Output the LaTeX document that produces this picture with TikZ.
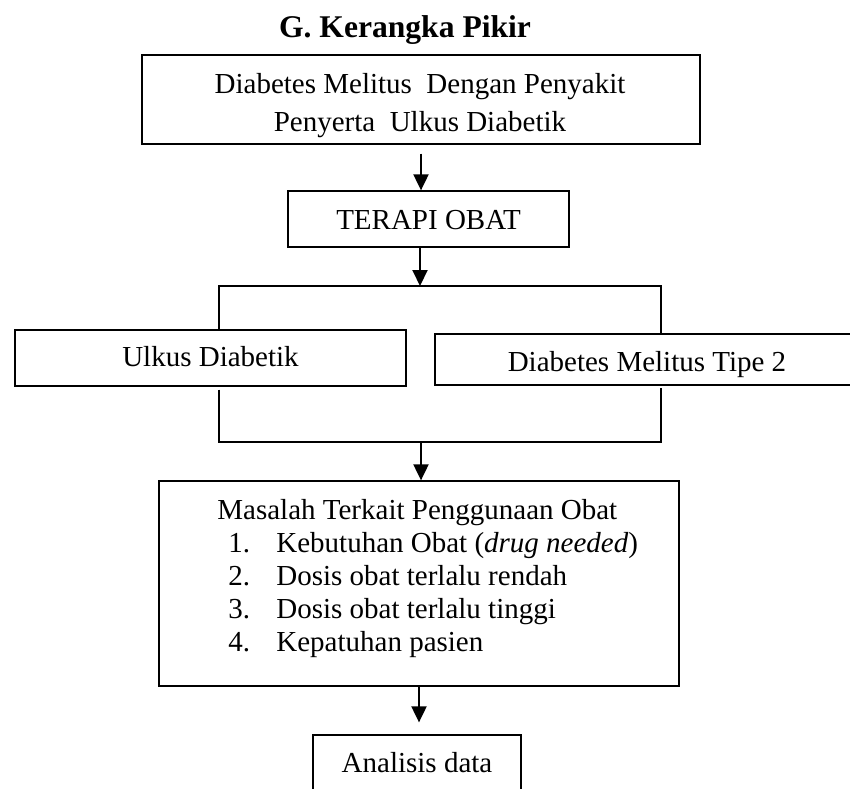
\documentclass[tikz,border=0pt]{standalone}
\usepackage{fontspec}
\setmainfont{Liberation Serif}
\usetikzlibrary{arrows.meta}
\begin{document}
\begin{tikzpicture}[x=0.5pt,y=-0.5pt,
  every node/.style={font=\fontsize{14.5pt}{16.5pt}\selectfont, inner sep=0pt},
  box/.style={draw=black, line width=0.65pt, rectangle, inner sep=0pt, text depth=0pt},
  conn/.style={draw=black, line width=1pt},
  arr/.style={conn, -{Triangle[length=8pt,width=7.5pt]}},
  txt/.style={anchor=base, inner sep=0pt}]
\useasboundingbox (0,0) rectangle (850,788);

% title
\node[txt, font=\fontsize{15.8pt}{18pt}\selectfont\bfseries] (title) at (405,37) {G. Kerangka Pikir};

% boxes
\node[box, minimum width=279pt, minimum height=44.5pt] (top) at (421,99.5) {};
\node[txt, font=\fontsize{14.5pt}{19pt}\selectfont] (toptext) at (420,93)
  {\begin{tabular}[t]{@{}c@{}}Diabetes Melitus\ \ Dengan Penyakit\\ Penyerta\ \ Ulkus Diabetik\end{tabular}};

\node[box, minimum width=140.5pt, minimum height=28pt, text height=10pt] (terapi) at (428.5,219) {TERAPI OBAT};

\node[box, minimum width=195.5pt, minimum height=28pt, text height=8pt] (ulkus) at (210.5,358) {Ulkus Diabetik};
\node[box, minimum width=212pt, minimum height=25.5pt, text height=11.5pt] (dm2) at (647,359.5) {Diabetes Melitus Tipe 2};

\node[box, minimum width=260pt, minimum height=102.5pt] (masalah) at (419,583.5) {};
\node[anchor=base west] (masalahtext) at (217,519)
  {\begin{tabular}[t]{@{}l@{}}
   Masalah Terkait Penggunaan Obat\\
   \hspace*{5.5pt}\makebox[24pt][l]{1.}Kebutuhan Obat (\textit{drug needed})\\
   \hspace*{5.5pt}\makebox[24pt][l]{2.}Dosis obat terlalu rendah\\
   \hspace*{5.5pt}\makebox[24pt][l]{3.}Dosis obat terlalu tinggi\\
   \hspace*{5.5pt}\makebox[24pt][l]{4.}Kepatuhan pasien
   \end{tabular}};

\node[box, minimum width=104pt, minimum height=28pt, text height=9pt] (analisis) at (417,763) {Analisis data};

% junction points
\coordinate (split) at (420,286);
\coordinate (bl) at (219,286);
\coordinate (br) at (661,286);
\coordinate (jl) at (219,442);
\coordinate (jr) at (661,442);
\coordinate (join) at (421,442);

% connectors
\draw[arr, shorten <=4.5pt] (top.south) -- (top.south |- terapi.north);
\draw[arr] (split |- terapi.south) -- (split);
\draw[conn] (ulkus.north -| bl) -- (bl) -- (br) -- (dm2.north -| br);
\draw[conn] ([yshift=-1.5pt]ulkus.south -| jl) -- (jl) -- (jr) -- ([yshift=-1pt]dm2.south -| jr);
\draw[arr] (join) -- (join |- masalah.north);
\draw[arr, shorten >=6pt] (masalah.south) -- (masalah.south |- analisis.north);
\end{tikzpicture}
\end{document}
